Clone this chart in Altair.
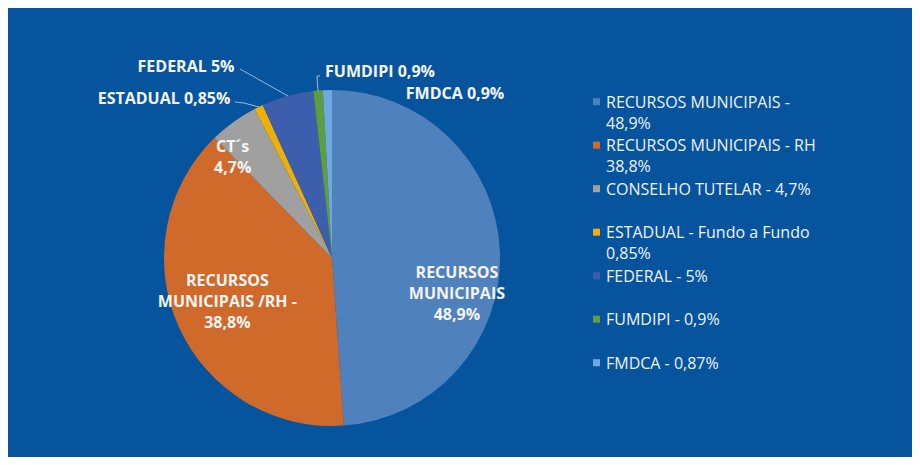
import altair as alt
import pandas as pd

categories = ["RECURSOS MUNICIPAIS", "RECURSOS MUNICIPAIS - RH", "CONSELHO TUTELAR",
              "ESTADUAL - Fundo a Fundo", "FEDERAL", "FUMDIPI", "FMDCA"]
values = [48.9, 38.8, 4.7, 0.85, 5.0, 0.9, 0.87]
legend_labels = ["RECURSOS MUNICIPAIS -\n48,9%", "RECURSOS MUNICIPAIS - RH\n38,8%",
                 "CONSELHO TUTELAR - 4,7%", "ESTADUAL - Fundo a Fundo\n0,85%",
                 "FEDERAL - 5%", "FUMDIPI - 0,9%", "FMDCA - 0,87%"]
slice_labels = ["RECURSOS\nMUNICIPAIS\n48,9%", "RECURSOS\nMUNICIPAIS /RH -\n38,8%", "CT´s\n4,7%",
                "ESTADUAL 0,85%", "FEDERAL 5%", "FUMDIPI 0,9%", "FMDCA 0,9%"]
colors = ["#4f81bd", "#d06a2a", "#a0a0a0", "#eeb004", "#3d5ead", "#5f9e3c", "#70a8e2"]

BG = "#07549e"
TOTAL = sum(values)

df = pd.DataFrame({"cat": categories, "value": values, "idx": list(range(len(values))),
                   "legend": legend_labels, "label": slice_labels})

W, H = 648, 398
R = 168

color = alt.Color("cat:N", scale=alt.Scale(domain=categories, range=colors), legend=None)
theta_scale = alt.Scale(domain=[0, TOTAL])

base = alt.Chart(df)

pie = base.mark_arc(radius=R, stroke=None).encode(
    theta=alt.Theta("value:Q", stack=True, scale=theta_scale),
    order=alt.Order("idx:Q"),
    color=color,
)

mid = base.transform_window(
    cum="sum(value)", sort=[alt.SortField("idx")], frame=[None, 0]
).transform_calculate(mid="datum.cum - datum.value / 2")

LABEL_FONT = dict(font="Open Sans", fontWeight="bold", fontSize=16, color="#f4f4f4")


def inner_label(cat, radius, dx, dy):
    return mid.transform_filter(alt.datum.cat == cat).mark_text(
        radius=radius, dx=dx, dy=dy, lineHeight=21, align="center", baseline="middle",
        lineBreak="\n", **LABEL_FONT
    ).encode(theta=alt.Theta("mid:Q", scale=theta_scale), text="label:N")


def outer_label(cat, x, y):
    return base.transform_filter(alt.datum.cat == cat).mark_text(
        align="center", baseline="middle", **LABEL_FONT
    ).encode(x=alt.value(x), y=alt.value(y), text="label:N")


def leader(x1, y1, x2, y2):
    return base.mark_rule(color="#9db7d6", strokeWidth=1).encode(
        x=alt.value(x1), y=alt.value(y1), x2=alt.value(x2), y2=alt.value(y2)
    ).transform_filter(alt.datum.idx == 0)


labels = [
    inner_label("RECURSOS MUNICIPAIS", 125, 0, 19),
    inner_label("RECURSOS MUNICIPAIS - RH", 107, -7, -21),
    inner_label("CONSELHO TUTELAR", 149, -12, 10),
    outer_label("FEDERAL", 178, 8),
    outer_label("ESTADUAL - Fundo a Fundo", 156, 40),
    outer_label("FUMDIPI", 372, 13),
    outer_label("FMDCA", 447, 35),
    leader(232, 10, 280, 37),
    leader(227, 43, 236, 44),
    leader(236, 44, 251, 48),
    leader(312, 17, 309, 17),
    leader(309, 17, 310, 32),
]

ypos = alt.Y("cat:N", sort=categories, axis=None,
             scale=alt.Scale(type="point", range=[42.7, 303.7], padding=0))

legend_sq = base.mark_point(shape="square", filled=True, size=49, opacity=1).encode(
    x=alt.value(588.5), y=ypos, color=color
)
legend_txt = base.mark_text(
    font="Open Sans", fontSize=16, lineHeight=21, color="#eef3fa", align="left",
    baseline="alphabetic", dy=6, lineBreak="\n"
).encode(x=alt.value(598), y=ypos, text="legend:N")

chart = alt.layer(pie, *labels, legend_sq, legend_txt).properties(
    width=W, height=H,
    background=BG,
    padding={"left": 0, "top": 51, "right": 256, "bottom": 0},
    autosize=alt.AutoSizeParams(type="none"),
).configure_view(stroke=None)

chart.save("out.html", embed_options={"renderer": "svg", "actions": False})
